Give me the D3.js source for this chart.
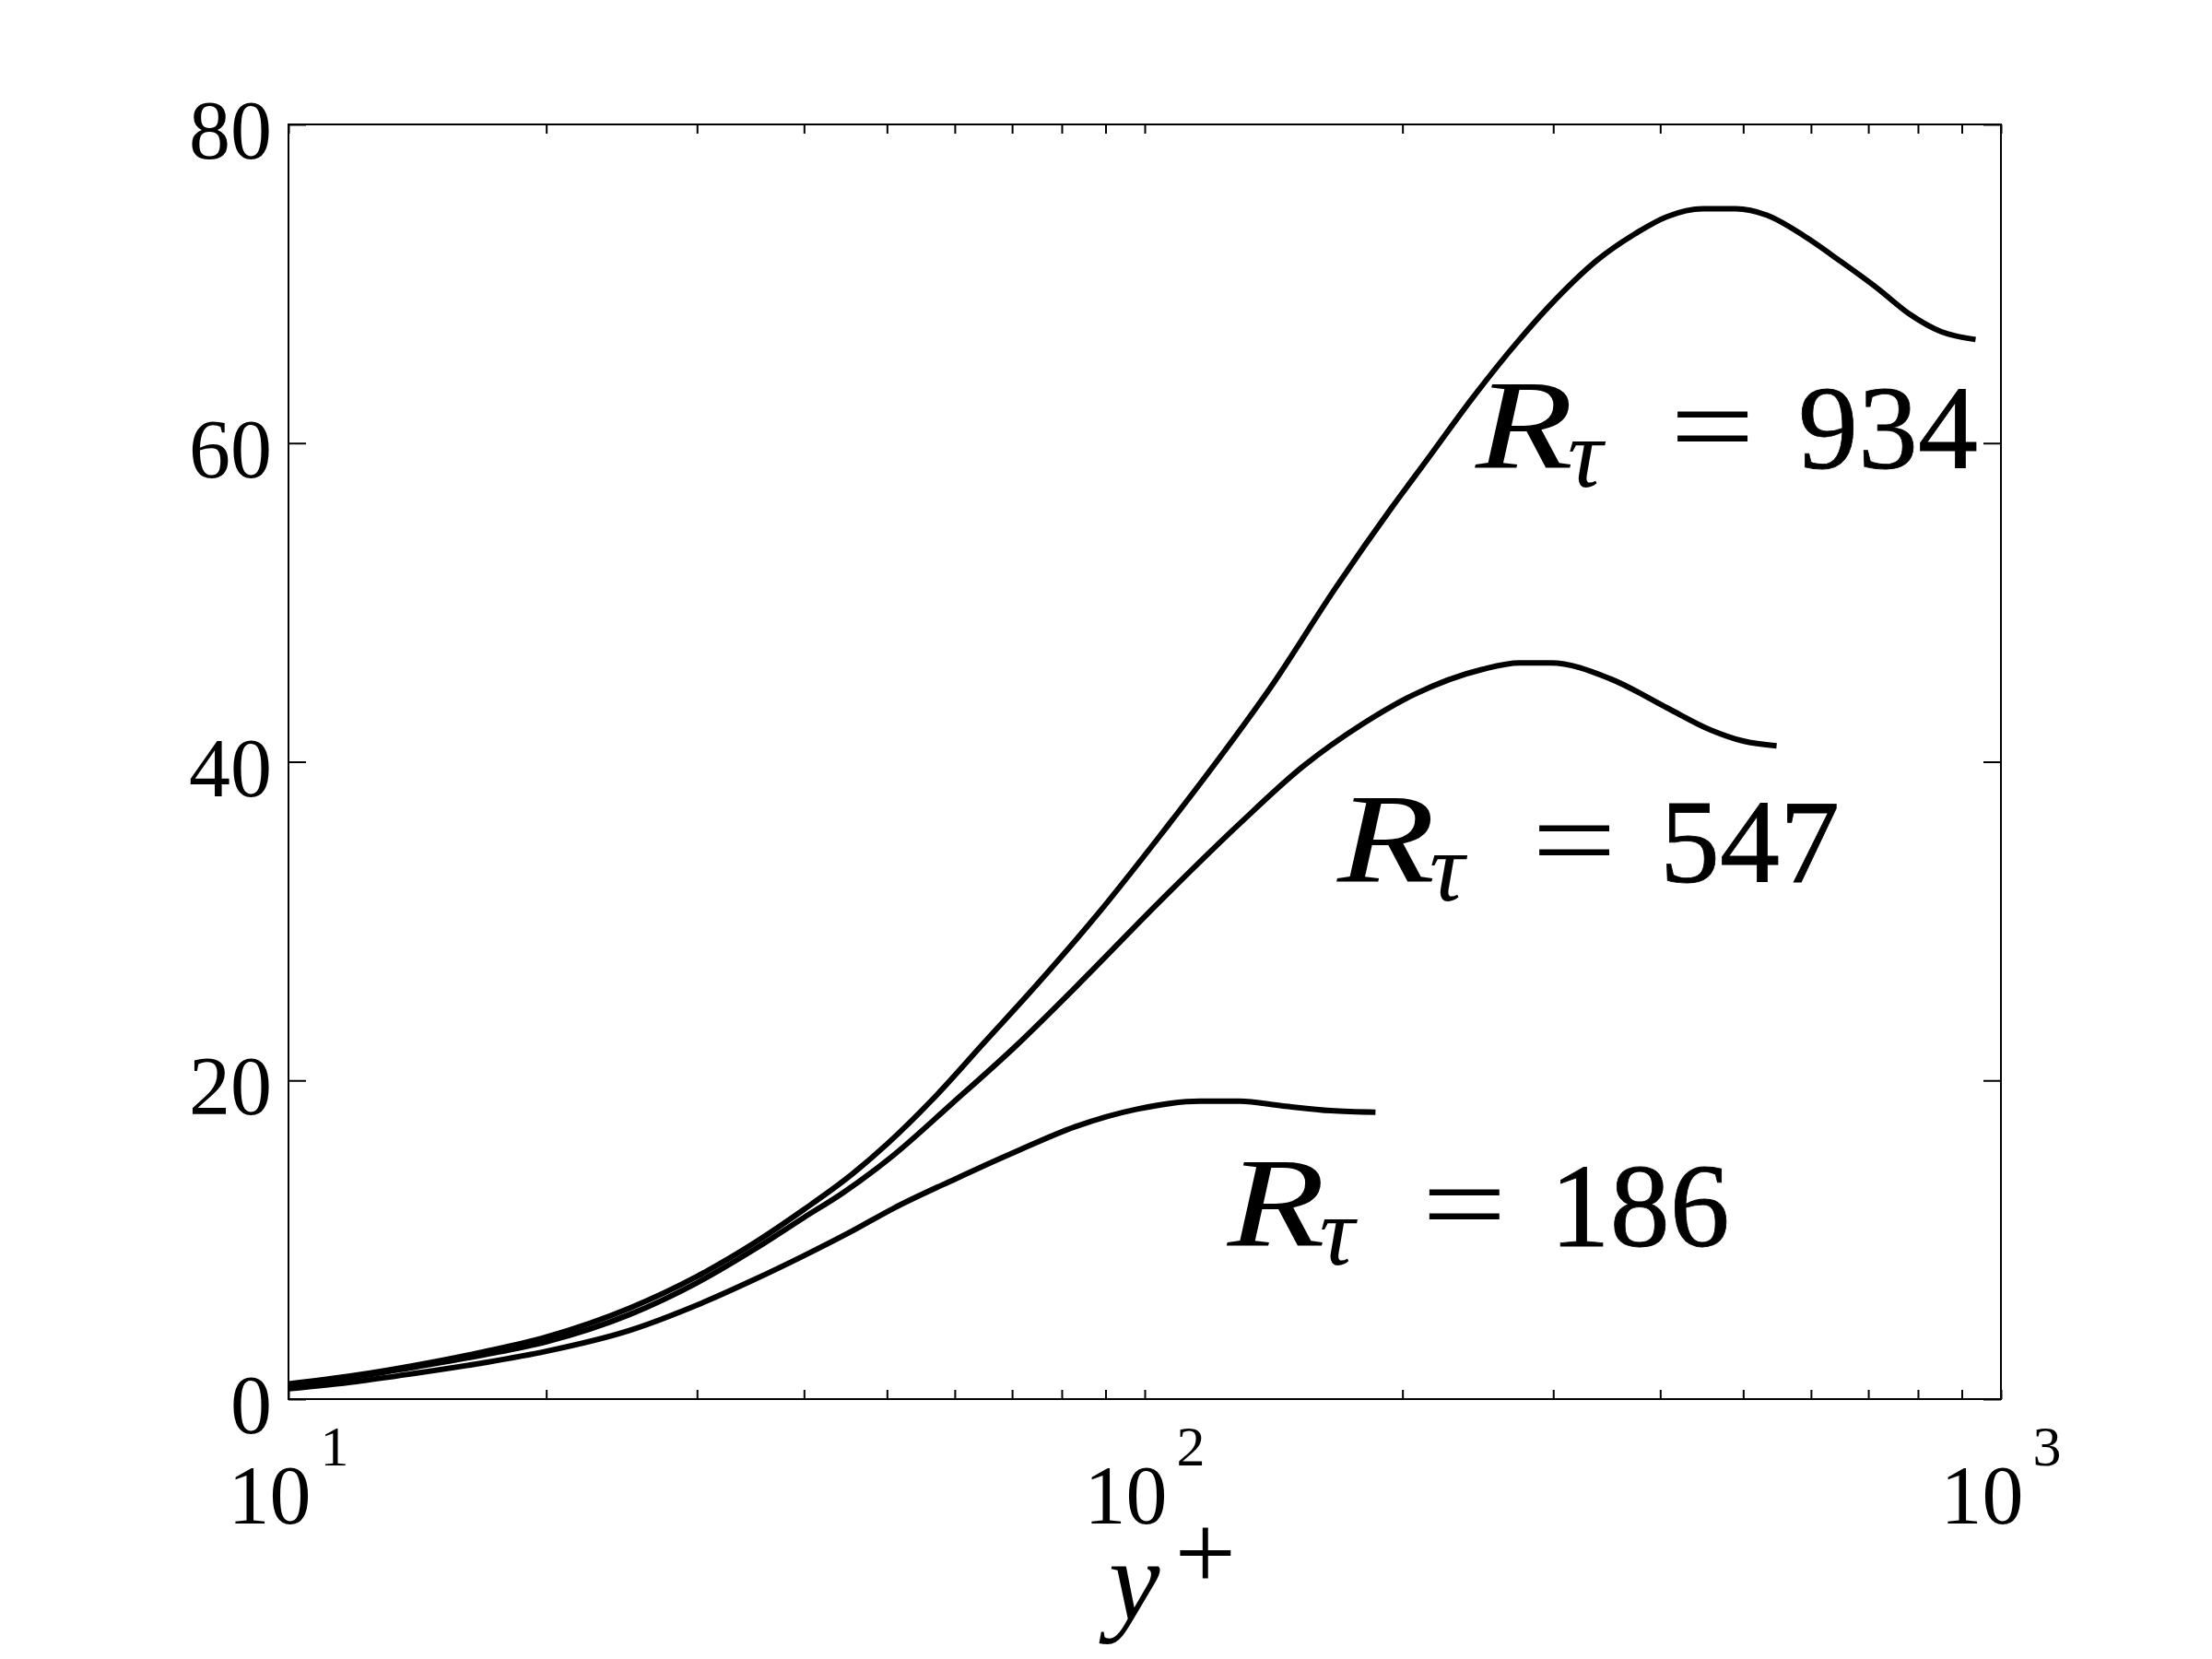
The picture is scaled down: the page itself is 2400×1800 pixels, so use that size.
<!DOCTYPE html>
<html>
<head>
<meta charset="utf-8">
<script src="https://cdn.jsdelivr.net/npm/d3@7"></script>
<style>
  html, body { margin: 0; padding: 0; background: #fff; }
  svg { display: block; }
  text { font-family: "Liberation Serif", "Times New Roman", serif; fill: #000; }
</style>
</head>
<body>
<script>
// ---- data ----
const yPlus934 = [10, 12, 14, 17, 20, 25, 30, 35, 40, 45, 50, 56.5, 65, 74.5, 88, 104, 122.5, 140, 167.5, 194, 214, 242, 274, 303, 338, 373, 407, 449, 490, 533, 589, 650, 718, 782, 851, 934];
const val934   = [0.95, 1.5, 2.1, 3.0, 3.9, 5.7, 7.7, 9.8, 11.9, 13.9, 16.0, 18.8, 22.4, 25.9, 30.4, 35.3, 40.3, 44.6, 51.0, 55.9, 59.0, 62.9, 66.5, 69.1, 71.5, 73.1, 74.2, 74.7, 74.7, 74.3, 73.0, 71.4, 69.7, 68.1, 67.0, 66.5];

const yPlus547 = [10, 12, 14, 17, 20, 25, 30, 35, 40, 44.3, 50.6, 59.7, 70.5, 83.2, 104, 129, 153, 180, 206, 248, 274, 298, 350, 407, 458, 500, 547];
const val547   = [0.85, 1.4, 2.0, 2.8, 3.6, 5.3, 7.3, 9.4, 11.4, 12.9, 15.2, 18.6, 22.1, 25.9, 31.2, 36.1, 39.7, 42.4, 44.2, 45.8, 46.2, 46.2, 45.2, 43.4, 42.0, 41.3, 41.0];

const yPlus186 = [10, 12, 14, 17, 20, 25, 30, 35, 40, 45, 51, 60, 70.5, 83, 98, 116, 129, 145, 165, 186];
const val186   = [0.65, 1.1, 1.6, 2.3, 3.0, 4.3, 5.9, 7.5, 9.0, 10.4, 12.0, 13.8, 15.5, 17.1, 18.2, 18.7, 18.7, 18.4, 18.1, 18.0];

const seriesNames = ["934", "547", "186"];
const labelPosX = [243.5, 167.9, 124.9];   // label anchor (data coords, left edge of R)
const labelPosY = [58.4, 32.45, 9.63];     // label baseline (data coords)

const yTicks = [0, 20, 40, 60, 80];
const yTickLabels = ["0", "20", "40", "60", "80"];
const xMajorTicks = [10, 100, 1000];
const xMajorExp = ["1", "2", "3"];
const xMinorTicks = [20, 30, 40, 50, 60, 70, 80, 90, 200, 300, 400, 500, 600, 700, 800, 900];

// ---- layout ----
const W = 2400, H = 1800;
const L = 313, R = 2171, T = 135, B = 1518;

const svg = d3.select("body").append("svg").attr("width", W).attr("height", H);

const x = d3.scaleLog().domain([10, 1000]).range([L, R]);
const y = d3.scaleLinear().domain([0, 80]).range([B, T]);

svg.append("defs").append("clipPath").attr("id", "clip")
  .append("rect").attr("x", L).attr("y", T).attr("width", R - L).attr("height", B - T);

// lines
const line = d3.line().x(d => x(d[0])).y(d => y(d[1])).curve(d3.curveMonotoneX);
const series = [
  d3.zip(yPlus934, val934),
  d3.zip(yPlus547, val547),
  d3.zip(yPlus186, val186)
];
svg.append("g").attr("clip-path", "url(#clip)")
  .selectAll("path").data(series).join("path")
  .attr("d", line)
  .attr("fill", "none")
  .attr("stroke", "#000")
  .attr("stroke-width", 6)
  .attr("stroke-linejoin", "round");

// frame
svg.append("rect").attr("x", L).attr("y", T).attr("width", R - L).attr("height", B - T)
  .attr("fill", "none").attr("stroke", "#000").attr("stroke-width", 2);

// y ticks (both sides)
const yAxisL = d3.axisLeft(y).tickValues(yTicks).tickSize(-19).tickFormat("");
const yAxisR = d3.axisRight(y).tickValues(yTicks).tickSize(-19).tickFormat("");
[svg.append("g").attr("transform", `translate(${L},0)`).call(yAxisL),
 svg.append("g").attr("transform", `translate(${R},0)`).call(yAxisR)].forEach(g => {
  g.select(".domain").remove();
  g.selectAll("line").attr("stroke", "#000").attr("stroke-width", 2);
});

// x ticks (bottom & top)
const allX = xMajorTicks.concat(xMinorTicks);
const xAxisB = d3.axisBottom(x).tickValues(allX).tickSize(-10).tickFormat("");
const xAxisT = d3.axisTop(x).tickValues(allX).tickSize(-10).tickFormat("");
[svg.append("g").attr("transform", `translate(0,${B})`).call(xAxisB),
 svg.append("g").attr("transform", `translate(0,${T})`).call(xAxisT)].forEach(g => {
  g.select(".domain").remove();
  g.selectAll("line").attr("stroke", "#000").attr("stroke-width", 2);
});

// y tick labels
svg.append("g").selectAll("text").data(yTicks).join("text")
  .attr("x", L - 18)
  .attr("y", d => y(d) + 37)
  .attr("text-anchor", "end")
  .attr("font-size", 90)
  .text((d, i) => yTickLabels[i]);

// x tick labels 10^n
const xl = svg.append("g").selectAll("text").data(xMajorTicks).join("text")
  .attr("x", d => x(d))
  .attr("y", B + 135)
  .attr("text-anchor", "middle")
  .attr("font-size", 90);
xl.append("tspan").text("10");
xl.append("tspan").attr("dx", 10).attr("dy", -63).attr("font-size", 62).text((d, i) => xMajorExp[i]);

// x axis label y+
const xlab = svg.append("text").attr("x", 1203).attr("y", 1757).attr("font-size", 125);
xlab.append("tspan").attr("font-style", "italic").text("y");
xlab.append("tspan").attr("dx", 16).attr("dy", -32).attr("font-size", 118).text("+");

// R_tau labels
const lab = svg.append("g").selectAll("g").data(seriesNames).join("g")
  .attr("transform", (d, i) => `translate(${x(labelPosX[i])},${y(labelPosY[i])})`);
lab.each(function (d, i) {
  const g = d3.select(this);
  g.append("text").attr("x", 0).attr("y", 0).attr("font-size", 138).attr("font-style", "italic")
    .attr("textLength", 106).attr("lengthAdjust", "spacingAndGlyphs").text("R");
  g.append("text").attr("x", 100).attr("y", 20).attr("font-size", 106).attr("font-style", "italic").text("τ");
  g.append("text").attr("x", 211).attr("y", -2).attr("font-size", 130)
    .attr("textLength", 92).attr("lengthAdjust", "spacingAndGlyphs").text("=");
  g.append("text").attr("x", 350).attr("y", 0).attr("font-size", 130)
    .attr("stroke", "#000").attr("stroke-width", 0.8).text(d);
});
</script>
</body>
</html>
